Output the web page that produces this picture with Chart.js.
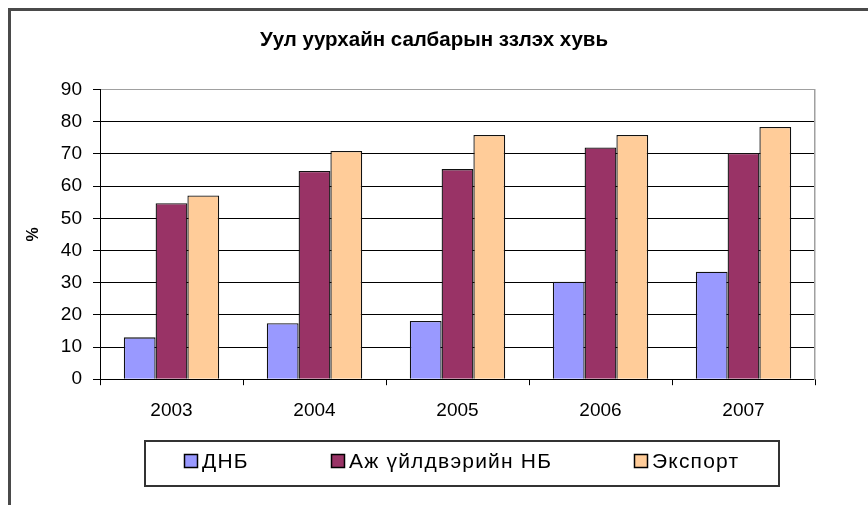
<!DOCTYPE html>
<html>
<head>
<meta charset="utf-8">
<script src="https://cdn.jsdelivr.net/npm/chart.js@4"></script>
<style>
  html, body { margin: 0; padding: 0; background: #fff; overflow: hidden; }
  #wrap { width: 868px; height: 505px; }
</style>
</head>
<body>
<div id="wrap"><canvas id="miningChart" width="868" height="505"></canvas></div>
<script>
// data
const years = ["2003", "2004", "2005", "2006", "2007"];
const dnb = [13.0, 17.4, 18.1, 30.3, 33.4];
const industry = [54.7, 64.7, 65.3, 72.0, 70.3];
const exportShare = [57.1, 70.9, 75.9, 75.9, 78.4];
const seriesNames = ["ДНБ", "Аж үйлдвэрийн НБ", "Экспорт"];
const seriesColors = ["#9999FF", "#993366", "#FFCC99"];
const yTicks = [0, 10, 20, 30, 40, 50, 60, 70, 80, 90];

const FONT = "'Liberation Sans', Arial, sans-serif";

// white page + the outer frame of the chart object
const framePlugin = {
  id: "frame",
  beforeDraw(chart) {
    const ctx = chart.ctx;
    ctx.save();
    ctx.fillStyle = "#fff";
    ctx.fillRect(0, 0, chart.width, chart.height);
    ctx.strokeStyle = "#4a4a4a";
    ctx.lineWidth = 3;
    ctx.beginPath();
    ctx.moveTo(9.5, chart.height + 2);
    ctx.lineTo(9.5, 9.5);
    ctx.lineTo(chart.width + 2, 9.5);
    ctx.stroke();
    ctx.restore();
  }
};

// boxed legend under the axis, like the Excel one
const legendX = [184, 331, 634];
const boxLegend = {
  id: "boxLegend",
  afterDraw(chart) {
    const ctx = chart.ctx;
    ctx.save();
    ctx.strokeStyle = "#333";
    ctx.lineWidth = 2;
    ctx.strokeRect(145, 441, 634, 45);
    ctx.font = "21px " + FONT;
    ctx.letterSpacing = "1.2px";
    ctx.textBaseline = "middle";
    chart.data.datasets.forEach((ds, i) => {
      const x = legendX[i];
      ctx.fillStyle = ds.backgroundColor;
      ctx.fillRect(x, 454, 14, 14);
      ctx.strokeStyle = "#000";
      ctx.lineWidth = 1.5;
      ctx.strokeRect(x + 0.5, 454.5, 13, 13);
      ctx.fillStyle = "#000";
      ctx.fillText(ds.label, x + 18, 462);
    });
    ctx.restore();
  }
};

const seriesData = [dnb, industry, exportShare];

new Chart(document.getElementById("miningChart").getContext("2d"), {
  type: "bar",
  data: {
    labels: years,
    datasets: seriesData.map((vals, i) => ({
      label: seriesNames[i],
      data: vals,
      backgroundColor: seriesColors[i],
      borderColor: "#111",
      borderWidth: 1.3,
      categoryPercentage: 0.667,
      barPercentage: 1.0
    }))
  },
  options: {
    responsive: false,
    animation: false,
    devicePixelRatio: 1,
    layout: { padding: { left: 0, right: 0, top: 0, bottom: 69 } },
    plugins: {
      legend: { display: false },
      tooltip: { enabled: false },
      title: {
        display: true,
        text: "Уул уурхайн салбарын ззлэх хувь",
        color: "#000",
        font: { family: FONT, size: 20.5, weight: "bold" },
        padding: { top: 28, bottom: 37 }
      }
    },
    scales: {
      x: {
        offset: true,
        grid: { offset: true, drawOnChartArea: false, drawTicks: true, tickLength: 6, color: "#000" },
        border: { color: "#000", width: 1 },
        ticks: { color: "#000", font: { family: FONT, size: 19 }, padding: 14 }
      },
      y: {
        min: 0,
        max: 90,
        afterBuildTicks: s => { s.ticks = yTicks.map(v => ({ value: v })); },
        afterFit: s => { s.width = 100; },
        grid: {
          color: c => (c.tick && c.tick.value === 90 ? "#a0a0a0" : "#000"),
          tickColor: "#000",
          tickLength: 7,
          lineWidth: 1
        },
        border: { color: "#000", width: 1 },
        ticks: { color: "#000", font: { family: FONT, size: 19 }, padding: 11 },
        title: {
          display: true,
          text: "%",
          color: "#000",
          font: { family: FONT, size: 16, weight: "bold" },
          padding: { top: 24, bottom: 0 }
        }
      },
      // empty right-hand axis: only its gray line closes the plot area
      yEdge: {
        position: "right",
        min: 0,
        max: 90,
        afterFit: s => { s.width = 53; },
        grid: { drawOnChartArea: false, drawTicks: false },
        ticks: { display: false },
        border: { color: "#a0a0a0", width: 1.5 }
      }
    }
  },
  plugins: [framePlugin, boxLegend]
});
</script>
</body>
</html>
